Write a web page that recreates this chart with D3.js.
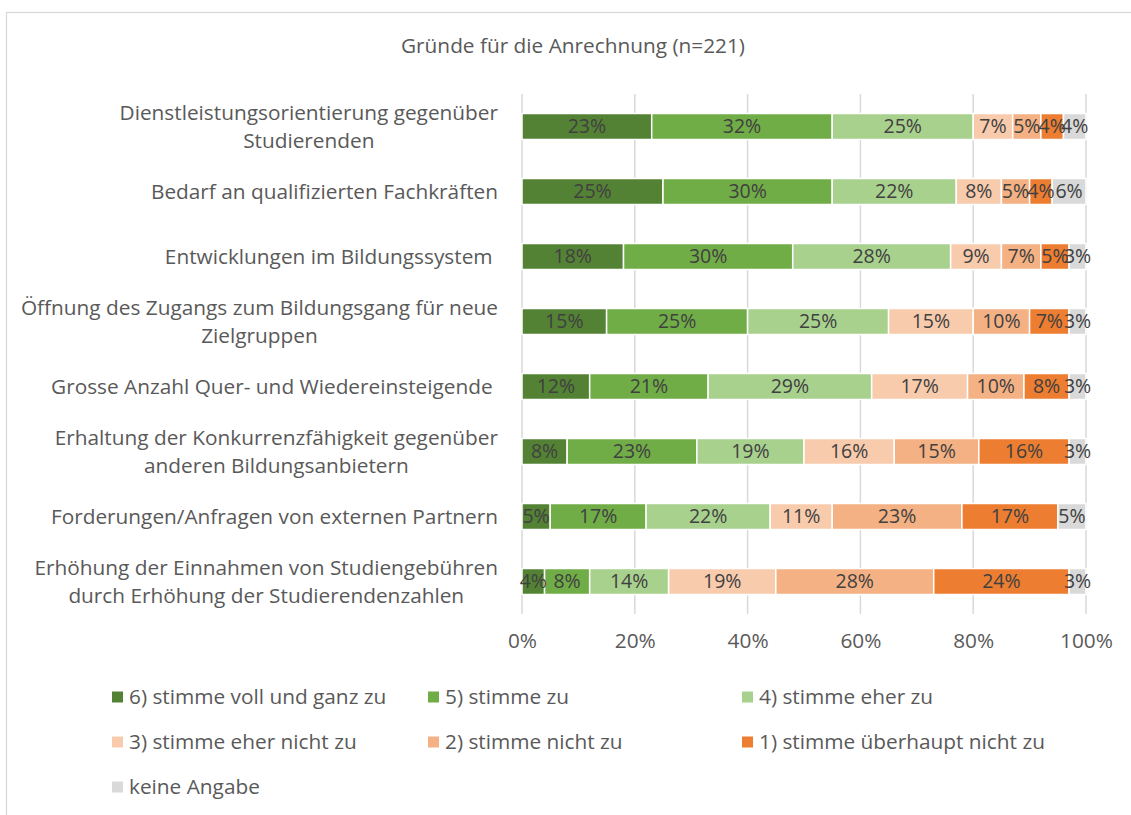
<!DOCTYPE html>
<html>
<head>
<meta charset="utf-8">
<script src="https://cdn.jsdelivr.net/npm/d3@7"></script>
<style>
  html, body { margin: 0; padding: 0; background: #fff; }
  svg { display: block; }
  text { font-family: "Open Sans", sans-serif; }
</style>
</head>
<body>
<svg id="chart" width="1131" height="815"></svg>
<script>
const title = "Gründe für die Anrechnung (n=221)";
const categories = [
  "Dienstleistungsorientierung gegenüber\nStudierenden",
  "Bedarf an qualifizierten Fachkräften",
  "Entwicklungen im Bildungssystem ",
  "Öffnung des Zugangs zum Bildungsgang für neue\nZielgruppen",
  "Grosse Anzahl Quer- und Wiedereinsteigende ",
  "Erhaltung der Konkurrenzfähigkeit gegenüber\nanderen Bildungsanbietern",
  "Forderungen/Anfragen von externen Partnern",
  "Erhöhung der Einnahmen von Studiengebühren\ndurch Erhöhung der Studierendenzahlen"
];
const seriesNames = [
  "6) stimme voll und ganz zu",
  "5) stimme zu",
  "4) stimme eher zu",
  "3) stimme eher nicht zu",
  "2) stimme nicht zu",
  "1) stimme überhaupt nicht zu",
  "keine Angabe"
];
const s6 = [23, 25, 18, 15, 12, 8, 5, 4];
const s5 = [32, 30, 30, 25, 21, 23, 17, 8];
const s4 = [25, 22, 28, 25, 29, 19, 22, 14];
const s3 = [7, 8, 9, 15, 17, 16, 11, 19];
const s2 = [5, 5, 7, 10, 10, 15, 23, 28];
const s1 = [4, 4, 5, 7, 8, 16, 17, 24];
const sk = [4, 6, 3, 3, 3, 3, 5, 3];
const seriesValues = [s6, s5, s4, s3, s2, s1, sk];
const colors = ["#548235", "#70ad47", "#a9d18e", "#f8cbad", "#f4b183", "#ed7d31", "#d9d9d9"];
const tickValues = [0, 20, 40, 60, 80, 100];

const FONT = '"Open Sans", sans-serif';
const FS = 20.8;
const FS_DATA = 19.5;

const rows = categories.map((c, i) => {
  const r = { cat: c };
  seriesNames.forEach((s, j) => { r[s] = seriesValues[j][i]; });
  return r;
});

const svg = d3.select("#chart");

// chart frame
svg.append("rect")
  .attr("x", 6.5).attr("y", 12.5)
  .attr("width", 1140).attr("height", 830)
  .attr("fill", "#fff").attr("stroke", "#d9d9d9").attr("stroke-width", 1.3);

svg.append("text")
  .attr("x", 573).attr("y", 53)
  .attr("text-anchor", "middle")
  .attr("font-size", FS).attr("fill", "#595959")
  .text(title);

const x = d3.scaleLinear().domain([0, 100]).range([522, 1086]);
const y = d3.scaleBand().domain(categories).range([94, 614]).paddingInner(0.6).paddingOuter(0.3);

// gridlines
svg.append("g").selectAll("line").data(tickValues).join("line")
  .attr("x1", d => x(d)).attr("x2", d => x(d))
  .attr("y1", 94).attr("y2", 614)
  .attr("stroke", "#d9d9d9").attr("stroke-width", 1.5);

// x axis tick labels
const xAxis = d3.axisBottom(x).tickValues(tickValues).tickFormat(d => d + "%").tickSize(0).tickPadding(0);
const gx = svg.append("g").attr("transform", "translate(0,633)").call(xAxis);
gx.select(".domain").remove();
gx.selectAll("text").attr("font-size", FS).attr("fill", "#595959")
  .attr("font-family", FONT);

// stacked bars
const stack = d3.stack().keys(seriesNames);
const stacked = stack(rows);

const layers = svg.append("g").selectAll("g").data(stacked).join("g")
  .attr("fill", (d, i) => colors[i]);

layers.selectAll("rect").data(d => d).join("rect")
  .attr("x", d => x(d[0]))
  .attr("width", d => x(d[1]) - x(d[0]))
  .attr("y", d => y(d.data.cat))
  .attr("height", y.bandwidth())
  .attr("stroke", "#fff").attr("stroke-width", 1.5);

// data labels
const lbl = svg.append("g");
stacked.forEach((layer) => {
  layer.forEach(d => {
    lbl.append("text")
      .attr("x", (x(d[0]) + x(d[1])) / 2)
      .attr("y", y(d.data.cat) + y.bandwidth() / 2)
      .attr("dy", "0.35em")
      .attr("text-anchor", "middle")
      .attr("font-size", FS_DATA).attr("fill", "#404040")
      .text((d[1] - d[0]) + "%");
  });
});

// category labels
const cg = svg.append("g");
categories.forEach(c => {
  const lines = c.split("\n");
  const cy = y(c) + y.bandwidth() / 2;
  const lh = 28;
  const t = cg.append("text")
    .attr("font-size", FS).attr("fill", "#595959")
    .attr("text-anchor", "middle")
    .style("white-space", "pre");
  const tmp = [];
  lines.forEach(l => {
    const tt = cg.append("text").attr("font-size", FS).style("white-space", "pre").text(l);
    tmp.push(tt.node().getComputedTextLength());
    tt.remove();
  });
  const maxW = d3.max(tmp);
  const cx = 498 - maxW / 2;
  lines.forEach((l, i) => {
    t.append("tspan")
      .attr("x", cx)
      .attr("y", cy + (i - (lines.length - 1) / 2) * lh)
      .attr("dy", "0.35em")
      .text(l);
  });
});

// legend
const legX = [112, 428, 742];
const legY = [697, 742, 787];
const lg = svg.append("g");
seriesNames.forEach((s, i) => {
  const col = i % 3, row = Math.floor(i / 3);
  const gx0 = legX[col], gy0 = legY[row];
  lg.append("rect").attr("x", gx0).attr("y", gy0 - 5.5).attr("width", 11).attr("height", 11).attr("fill", colors[i]);
  lg.append("text").attr("x", gx0 + 17).attr("y", gy0).attr("dy", "0.35em")
    .attr("font-size", FS).attr("fill", "#595959").text(s);
});
</script>
</body>
</html>
